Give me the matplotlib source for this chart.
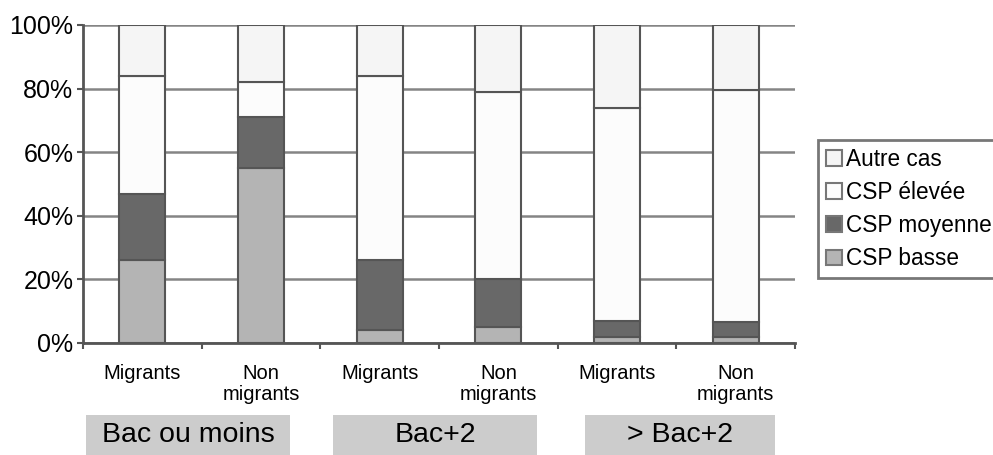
import numpy as np
import matplotlib
matplotlib.use("Agg")
import matplotlib.pyplot as plt
from matplotlib.patches import Rectangle, Patch

plt.rcParams['font.family'] = ['Liberation Sans', 'DejaVu Sans']

# data (percent of each bar)
bars = ["Migrants", "Non\nmigrants", "Migrants", "Non\nmigrants", "Migrants", "Non\nmigrants"]
groups = ["Bac ou moins", "Bac+2", "> Bac+2"]
csp_basse = [26, 55, 4, 5, 2, 2]
csp_moyenne = [21, 16, 22, 15, 5, 4.5]
csp_elevee = [37, 11, 58, 59, 67, 73]
autre_cas = [16, 18, 16, 21, 26, 20.5]

series = [("CSP basse", csp_basse, "#b4b4b4"),
          ("CSP moyenne", csp_moyenne, "#686868"),
          ("CSP élevée", csp_elevee, "#fcfcfc"),
          ("Autre cas", autre_cas, "#f5f5f5")]

fig = plt.figure(figsize=(9.93, 4.55), dpi=100)
ax = fig.add_axes([83/993, 1 - 343/455, (795 - 83)/993, (343 - 25)/455])

x = np.arange(len(bars))
bottom = np.zeros(len(bars))
for name, vals, col in series:
    ax.bar(x, vals, width=0.39, bottom=bottom, color=col,
           edgecolor="#555555", linewidth=1.5, zorder=3)
    bottom += np.array(vals)

ax.set_xlim(-0.5, len(bars) - 0.5)
ax.set_ylim(0, 100)
ax.set_yticks(np.arange(0, 101, 20))
ax.set_yticklabels([f"{v}%" for v in range(0, 101, 20)], fontsize=18)
ax.yaxis.grid(True, color="#858585", linewidth=1.8, zorder=0)
ax.set_axisbelow(True)

ax.set_xticks(x)
ax.set_xticklabels(bars, fontsize=14.5, linespacing=1.12)
ax.set_xticks(np.arange(-0.5, len(bars)), minor=True)
ax.tick_params(axis="x", which="major", length=0, pad=15)
ax.tick_params(axis="x", which="minor", length=4, width=1.5, color="#555555", direction="out")
ax.tick_params(axis="y", length=4, width=1.5, color="#555555", pad=3)

for s in ["top", "right"]:
    ax.spines[s].set_visible(False)
for s in ["left", "bottom"]:
    ax.spines[s].set_color("#555555")
    ax.spines[s].set_linewidth(2)

# legend, top entry first
handles = [Patch(facecolor=col, edgecolor="#777777", linewidth=1.5, label=name)
           for name, vals, col in series[::-1]]
leg = fig.legend(handles=handles, loc="upper left", bbox_to_anchor=(818/993, 1 - 140/455),
                 fontsize=16.3, frameon=True, fancybox=False, borderpad=0.35,
                 handlelength=0.7, handleheight=0.7, handletextpad=0.2,
                 labelspacing=0.45, borderaxespad=0)
leg.get_frame().set_edgecolor("#555555")
leg.get_frame().set_linewidth(2)

# grey group boxes below the axis
boxes = [(86, 290), (333, 537), (585, 775)]
for (x0, x1), g in zip(boxes, groups):
    fig.patches.append(Rectangle((x0/993, 0), (x1 - x0)/993, 40/455,
                                 transform=fig.transFigure, facecolor="#cccccc",
                                 edgecolor="none"))
    fig.text((x0 + x1)/2/993, 1 - 435/455, g, ha="center", va="center", fontsize=20.5)

fig.savefig("out.png", dpi=100)
